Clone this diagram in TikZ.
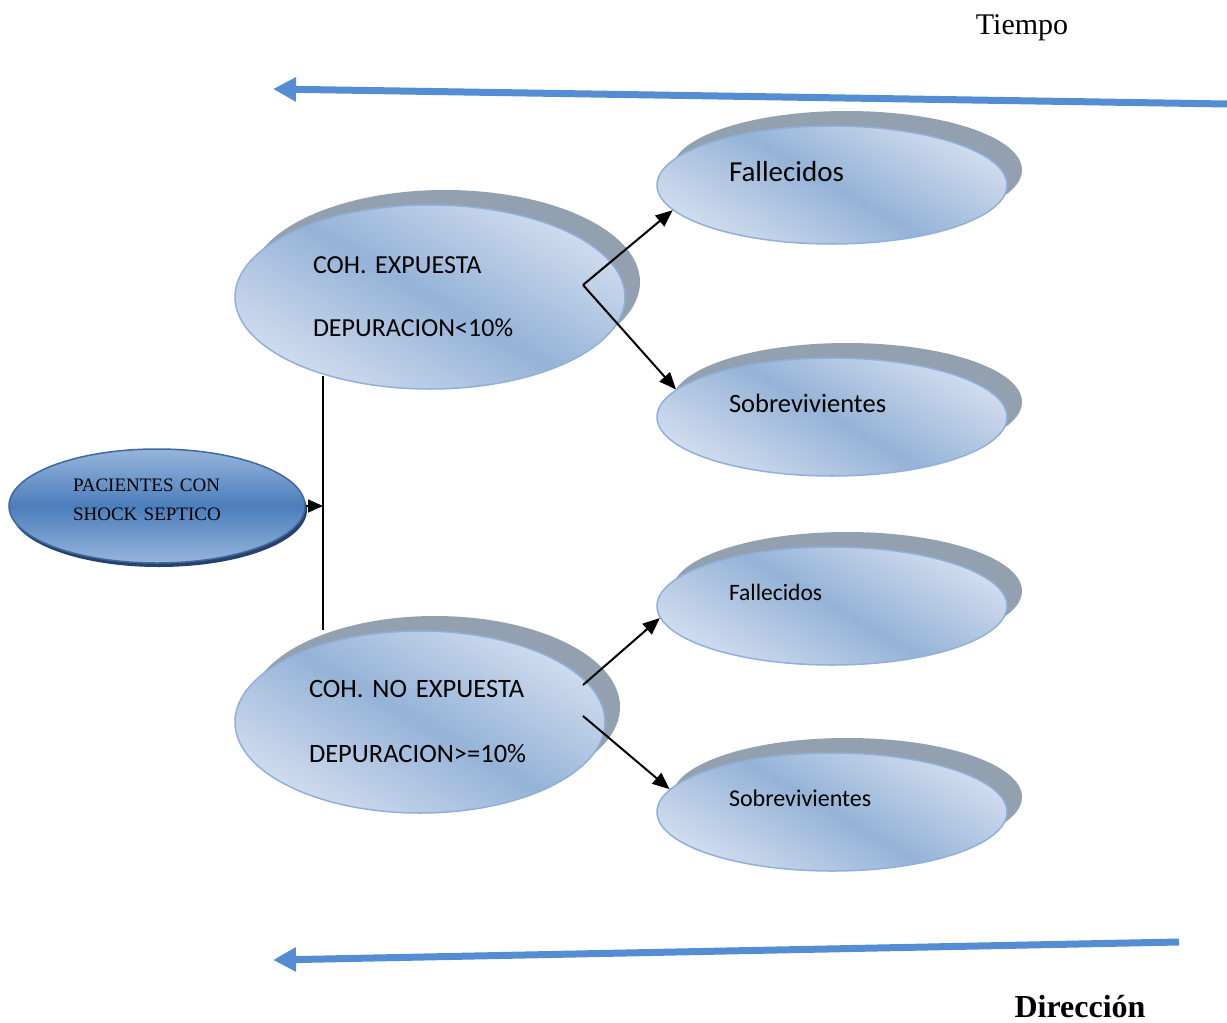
\documentclass[tikz,border=0pt]{standalone}
\usepackage{fontspec}
\setmainfont{Liberation Serif}
\newfontfamily\calibri{Carlito}
\usepackage{tikz}
\usetikzlibrary{arrows.meta,shapes,positioning,shadows}
\definecolor{flowblue}{RGB}{84,141,212}
\definecolor{cohlight}{RGB}{208,220,238}
\definecolor{cohmid}{RGB}{149,179,215}
\definecolor{cohedge}{RGB}{142,176,219}
\definecolor{cohshadow}{RGB}{147,160,175}
\definecolor{patmid}{RGB}{76,126,188}
\definecolor{patlight}{RGB}{150,181,219}
\definecolor{patedge}{RGB}{62,104,160}
\definecolor{patshadow}{RGB}{38,66,108}
\tikzstyle{timearrow} = [line width=7pt,-{Triangle[length=23pt,width=23pt]},color=flowblue]
\tikzstyle{connector} = [line width=2pt,-{Triangle[length=17pt,width=14pt]}]
\tikzstyle{cohort} = [ellipse, inner sep=0pt, draw=cohedge, line width=1.5pt, top color=cohlight, bottom color=cohlight, middle color=cohmid, shading angle=-30, drop shadow={shadow xshift=15pt, shadow yshift=15pt, fill=cohshadow, opacity=1, draw=none}, align=left]
\tikzstyle{outcome} = [cohort, minimum width=350pt, minimum height=118pt, text width=206pt, text depth=28pt]
\tikzstyle{patients} = [ellipse, inner sep=0pt, draw=patedge, line width=1.5pt, top color=patlight, bottom color=patlight, middle color=patmid, drop shadow={shadow xshift=2pt, shadow yshift=-4pt, fill=patshadow, opacity=1, draw=none}, minimum width=296pt, minimum height=114pt, text width=168pt, text depth=42pt, align=left, font=\fontsize{19}{29}\selectfont]

\begin{document}
\frenchspacing
\begin{tikzpicture}[x=1pt, y=-1pt]
\useasboundingbox (0,0) rectangle (1227,1023);
% Nodes
\node (pacientes) [patients] at (157,506) {PACIENTES CON\\SHOCK SEPTICO};
\node (expuesta) [cohort, minimum width=390pt, minimum height=184pt, text width=234pt, font=\calibri\fontsize{26}{63}\selectfont] at (430,297) {COH. EXPUESTA\\DEPURACION<10\%};
\node (noexpuesta) [cohort, minimum width=370pt, minimum height=182pt, text width=222pt, font=\calibri\fontsize{26.5}{65}\selectfont] at (420,722) {COH. NO EXPUESTA\\DEPURACION>=10\%};
\node (fallexp) [outcome, font=\calibri\fontsize{29}{34}\selectfont] at (832,185) {Fallecidos};
\node (sobrexp) [outcome, font=\calibri\fontsize{26.5}{32}\selectfont] at (832,417) {Sobrevivientes};
\node (fallnoexp) [outcome, font=\calibri\fontsize{23.5}{28}\selectfont] at (832,606) {Fallecidos};
\node (sobrnoexp) [outcome, font=\calibri\fontsize{24}{29}\selectfont] at (832,812) {Sobrevivientes};
\node (tiempo) [font=\fontsize{30}{36}\selectfont] at (1022,28) {Tiempo};
\node (direccion) [font=\fontsize{32}{38}\selectfont\bfseries] at (1080,1007) {Dirección};

% Time arrows
\coordinate (timestart) at (1227,104);
\coordinate (timeend) at (273,89);
\coordinate (dirstart) at (1179,942);
\coordinate (dirend) at (273,960);
\draw[timearrow] (timestart) -- (timeend);
\draw[timearrow] (dirstart) -- (dirend);

% Connectors
\coordinate (trunktop) at (323,376);
\coordinate (trunkbot) at (323,630);
\coordinate (splitexp) at (583,285);
\coordinate (splitfall) at (583,685);
\coordinate (splitsobr) at (583,716);
\draw[line width=1.5pt] (trunktop) -- (trunkbot);
\draw[connector, line width=1.5pt, -{Triangle[length=15pt,width=13pt]}] (pacientes) -- (pacientes -| trunktop);
\draw[connector] (splitexp) -- (fallexp.189);
\draw[connector] (splitexp) -- (sobrexp.170);
\draw[connector] (splitfall) -- (fallnoexp.184);
\draw[connector] (splitsobr) -- (sobrnoexp.172);
\end{tikzpicture}
\end{document}
